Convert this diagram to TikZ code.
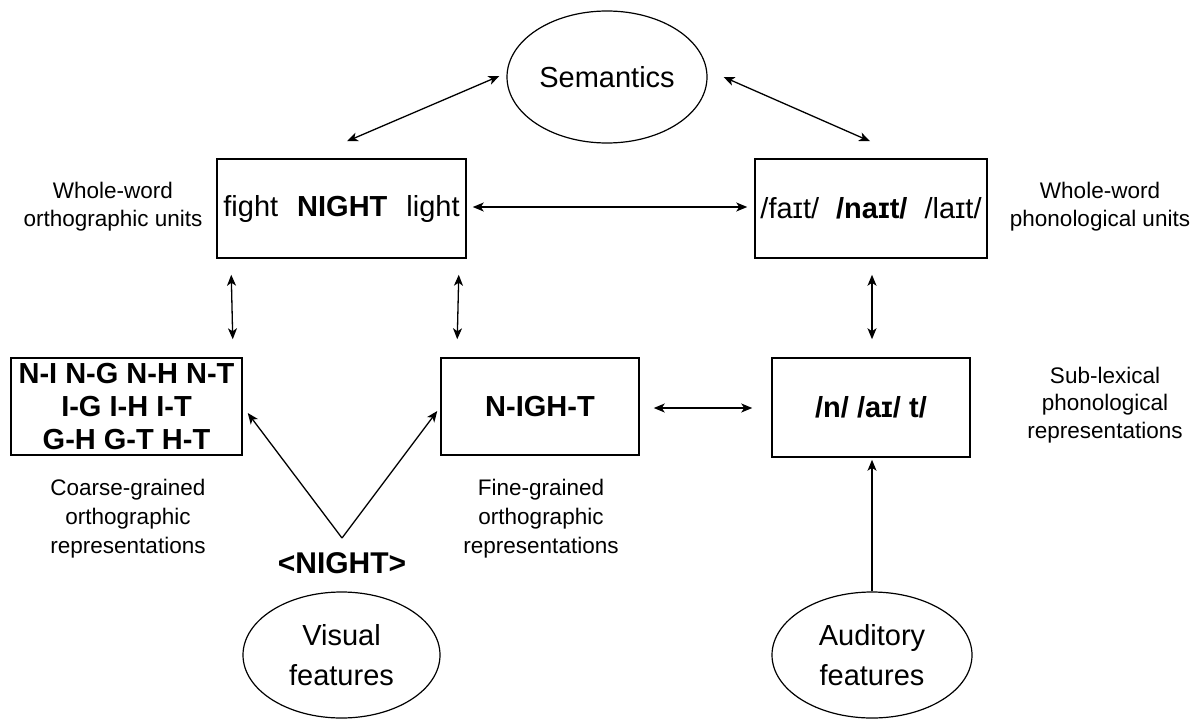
\documentclass[tikz,border=0pt]{standalone}
\usepackage{fontspec}
\setmainfont{Liberation Sans}
\usetikzlibrary{arrows.meta,calc,shapes.geometric}
\begin{document}
\begin{tikzpicture}[x=1pt,y=-1pt,
  link/.style={line width=1.3pt,{Stealth[length=11pt,width=9pt,inset=3pt]}-{Stealth[length=11pt,width=9pt,inset=3pt]}},
  feed/.style={line width=1.3pt,-{Stealth[length=11pt,width=9pt,inset=3pt]}},
  unitbox/.style={draw,line width=1.5pt,minimum height=99pt,inner sep=0pt,
    font=\fontsize{29}{34}\selectfont,align=center},
  boldbox/.style={unitbox,font=\bfseries\fontsize{29}{34}\selectfont},
  cloud/.style={draw,ellipse,line width=1.2pt,inner sep=0pt,
    font=\fontsize{29}{40}\selectfont,align=center},
  note/.style={font=\fontsize{22.5}{27.5}\selectfont,align=center},
  note3/.style={font=\fontsize{22.5}{29}\selectfont,align=center}]
\useasboundingbox (0,0) rectangle (1198,720);

% semantic level
\node[cloud,minimum width=200pt,minimum height=132pt] (sem) at (607,77) {Semantics};

% whole-word units
\node[unitbox,minimum width=249pt] (ow) at (341.5,208.5)
  {fight\hspace{19pt}\textbf{NIGHT}\hspace{19pt}light};
\node[unitbox,minimum width=232pt] (pw) at (871,208.5)
  {/faɪt/\hspace{17pt}\textbf{/naɪt/}\hspace{17pt}/laɪt/};

% sub-lexical units
\node[boldbox,minimum width=231pt,minimum height=97pt,
  font=\bfseries\fontsize{29}{33}\selectfont] (oc) at (126.5,406.5)
  {N-I N-G N-H N-T\\I-G I-H I-T\\G-H G-T H-T};
\node[boldbox,minimum width=198pt,minimum height=97pt] (of) at (540,406.5) {N-IGH-T};
\node[boldbox,minimum width=198pt] (ps) at (871,407.5) {/n/ /aɪ/ t/};

% input features
\node[cloud,minimum width=197pt,minimum height=126pt] (vis) at (341.5,655) {Visual\\features};
\node[cloud,minimum width=200pt,minimum height=126pt] (aud) at (872,655) {Auditory\\features};
\node[font=\bfseries\fontsize{30}{36}\selectfont] (word) at (342,563) {<NIGHT>};
\coordinate (apex) at (342,538);

% side labels
\node[note] (lw) at (113,206.5) {Whole-word\\orthographic units};
\node[note] (rw) at (1100,206.5) {Whole-word\\phonological units};
\node[note] (rs) at (1105,405) {Sub-lexical\\phonological\\representations};
\node[note3] (lc) at (128,519) {Coarse-grained\\orthographic\\representations};
\node[note3] (lf) at (541,519) {Fine-grained\\orthographic\\representations};

% connections
\draw[link] ($(ow.north)+(5.5,-17)$) -- ($(sem.west)+(-7,-1)$);
\draw[link] ($(sem.east)+(16,0)$) -- ($(pw.north)+(-1,-17)$);
\draw[link] ($(ow.east)+(6,-1.5)$) -- ($(pw.west)+(-7,-1.5)$);
\draw[link] ($(ow.south west)+(15,16)$) -- ($(oc.north east)+(-10,-18)$);
\draw[link] ($(ow.south east)+(-8,16)$) -- ($(of.north west)+(17,-18)$);
\draw[link] ($(pw.south)+(1,16)$) -- ($(ps.north)+(1,-18)$);
\draw[link] ($(of.east)+(14,1.5)$) -- ($(ps.west)+(-19,0.5)$);
\draw[feed] (apex) -- ($(oc.east)+(5,6.5)$);
\draw[feed] (apex) -- ($(of.west)+(-3,4.5)$);
\draw[feed] (aud.north) -- ($(ps.south)+(1,2)$);
\end{tikzpicture}
\end{document}
